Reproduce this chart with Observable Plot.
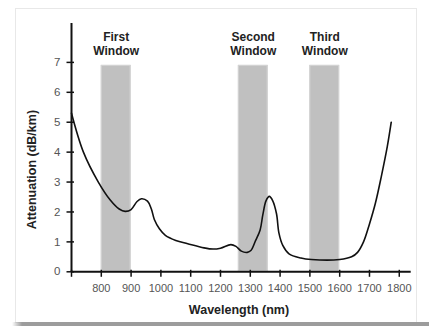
<!DOCTYPE html>
<html>
<head>
<meta charset="utf-8">
<script src="https://cdn.jsdelivr.net/npm/d3@7"></script>
<script src="https://cdn.jsdelivr.net/npm/@observablehq/plot@0.6"></script>
<style>
  html, body { margin: 0; padding: 0; background: #fff; }
  #wrap { position: relative; width: 429px; height: 326px; overflow: hidden; font-family: "Liberation Sans", Arial, sans-serif; }
  #frame { position: absolute; left: 15px; top: 8px; width: 400px; height: 313px; border: 1px solid #e8e8e8; box-sizing: content-box; }
  #shadow { position: absolute; left: 12px; top: 322px; width: 417px; height: 4px; background: linear-gradient(to right, rgba(150,150,150,0), #9c9c9c 10px); }
  #chart { position: absolute; left: 0; top: 0; }
</style>
</head>
<body>
<div id="wrap"><div id="frame"></div><div id="shadow"></div><div id="chart"></div></div>
<script>
// Measured attenuation curve of silica fibre
const wavelength = [700, 740, 790, 830, 860, 880, 900, 920, 935, 955, 968, 978, 995, 1015, 1050, 1090, 1145, 1175, 1200, 1235, 1252, 1270, 1290, 1302, 1318, 1333, 1342, 1353, 1364, 1375, 1388, 1396, 1409, 1430, 1470, 1505, 1600, 1640, 1660, 1680, 1700, 1720, 1740, 1760, 1773];
const attenuation = [5.3, 4.0, 3.0, 2.4, 2.1, 2.02, 2.08, 2.35, 2.44, 2.36, 2.1, 1.75, 1.44, 1.22, 1.05, 0.94, 0.80, 0.76, 0.79, 0.91, 0.85, 0.69, 0.65, 0.71, 1.05, 1.4, 1.9, 2.38, 2.52, 2.38, 1.94, 1.3, 0.88, 0.6, 0.46, 0.41, 0.41, 0.5, 0.65, 1.0, 1.6, 2.3, 3.2, 4.2, 5.0];

// Transmission windows
const windowNames = ["First\nWindow", "Second\nWindow", "Third\nWindow"];
const windowStart = [800, 1260, 1500];
const windowEnd = [900, 1360, 1600];
const windowTop = [6.9, 6.9, 6.9];

// Axes
const xDomain = [700, 1840];
const yDomain = [0, 8.3];
const xTicks = [700, 800, 900, 1000, 1100, 1200, 1300, 1400, 1500, 1600, 1700, 1800];
const xTickLabels = [800, 900, 1000, 1100, 1200, 1300, 1400, 1500, 1600, 1700, 1800];
const yTicks = [0, 1, 2, 3, 4, 5, 6, 7];
const xTitle = "Wavelength (nm)";
const yTitle = "Attenuation (dB/km)";

const curve = wavelength.map((w, i) => ({w, a: attenuation[i]}));
const windows = windowNames.map((name, i) => ({name, x1: windowStart[i], x2: windowEnd[i], top: windowTop[i], mid: (windowStart[i] + windowEnd[i]) / 2}));

const plot = Plot.plot({
  width: 429,
  height: 326,
  marginLeft: 71,
  marginRight: 18.3,
  marginTop: 23,
  marginBottom: 54.7,
  style: {background: "transparent", fontFamily: "'Liberation Sans', Arial, sans-serif", overflow: "visible"},
  x: {domain: xDomain, axis: null},
  y: {domain: yDomain, axis: null},
  marks: [
    Plot.rect(windows, {x1: "x1", x2: "x2", y1: 0, y2: "top", fill: "#c0c0c0"}),
    Plot.rect(windows, {x1: "x1", x2: "x2", y1: 0, y2: "top", fill: "none", stroke: "#d4d4d4", strokeWidth: 1, inset: 0.5}),
    Plot.axisX(xTickLabels, {tickSize: 0, tickPadding: 12, fontSize: 11, fill: "#555", anchor: "bottom", tickFormat: d => String(d)}),
    Plot.axisY(yTicks, {tickSize: 0, tickPadding: 11, fontSize: 11.5, fill: "#555", anchor: "left", tickFormat: d => String(d)}),
    Plot.ruleX(xTicks, {x: d => d, y1: 0, y2: 0, insetTop: -1.5, insetBottom: -5.5, stroke: "#111", strokeWidth: 1.5}),
    Plot.ruleY(yTicks, {y: d => d, x1: xDomain[0], x2: xDomain[0], insetLeft: -4.5, insetRight: -3, stroke: "#111", strokeWidth: 1.5}),
    Plot.ruleX([xDomain[0]], {y1: yDomain[0], y2: yDomain[1], stroke: "#111", strokeWidth: 2}),
    Plot.ruleY([0], {x1: xDomain[0], x2: xDomain[1], stroke: "#111", strokeWidth: 2}),
    Plot.line(curve, {x: "w", y: "a", curve: "catmull-rom", stroke: "#111", strokeWidth: 1.6}),
    Plot.text(windows, {x: "mid", y: "top", text: "name", lineAnchor: "bottom", lineHeight: 1.17, dy: -10, fontSize: 12, fontWeight: "bold", fill: "#222"}),
    Plot.text([xTitle], {frameAnchor: "bottom", dx: -2.4, dy: 41.7, lineAnchor: "bottom", fontSize: 12.5, fontWeight: "bold", fill: "#222"}),
    Plot.text([yTitle], {frameAnchor: "left", textAnchor: "middle", rotate: -90, dx: -36, dy: 22, lineAnchor: "bottom", fontSize: 12.5, fontWeight: "bold", fill: "#222"})
  ]
});
document.getElementById("chart").appendChild(plot);
</script>
</body>
</html>
